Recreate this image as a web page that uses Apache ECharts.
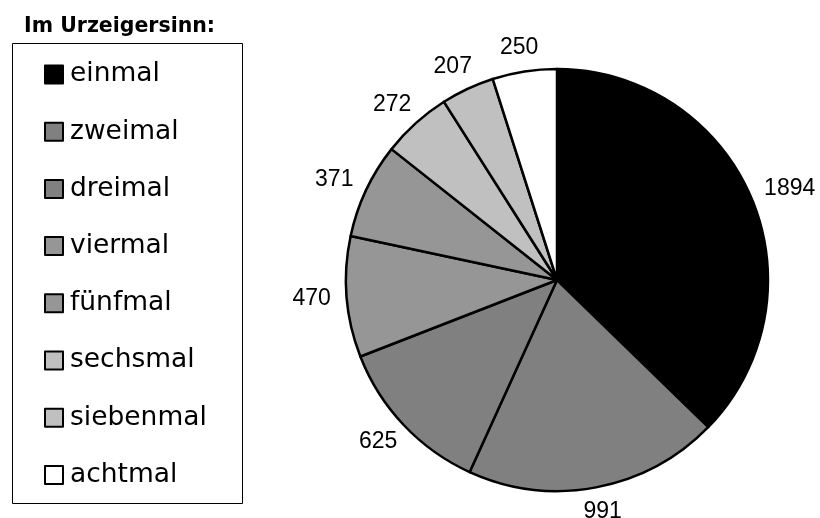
<!DOCTYPE html>
<html>
<head>
<meta charset="utf-8">
<script src="https://cdn.jsdelivr.net/npm/echarts@6/dist/echarts.min.js"></script>
<style>
  html, body { margin: 0; padding: 0; background: #fff; }
  #chart { width: 820px; height: 518px; }
</style>
</head>
<body>
<div id="chart"></div>
<script>
// Anzahl je Kategorie, im Uhrzeigersinn ab 12 Uhr
const categories = ['einmal', 'zweimal', 'dreimal', 'viermal', 'fünfmal', 'sechsmal', 'siebenmal', 'achtmal'];
const values = [1894, 991, 625, 470, 371, 272, 207, 250];
const sliceColors = ['#000000', '#808080', '#808080', '#969696', '#969696', '#c0c0c0', '#c0c0c0', '#ffffff'];
const legendTitle = 'Im Urzeigersinn:';

const PIE_CENTER = [557, 280];
const PIE_RADIUS = 211;
const LABEL_GAP = 16; // Abstand der Beschriftung vom Kreisrand

const total = values.reduce((a, b) => a + b, 0);

// Winkel der Segmentmitte (Bogenmaß, im Uhrzeigersinn ab 12 Uhr)
function midAngle(index) {
  let before = 0;
  for (let k = 0; k < index; k++) before += values[k];
  return (before + values[index] / 2) / total * Math.PI * 2;
}

const chart = echarts.init(document.getElementById('chart'), null, { renderer: 'canvas' });

chart.setOption({
  animation: false,
  backgroundColor: '#ffffff',
  color: sliceColors,
  title: {
    text: legendTitle,
    left: 19,
    top: 11,
    textStyle: {
      fontFamily: 'DejaVu Sans',
      fontWeight: 'bold',
      fontSize: 20.5,
      color: '#000'
    }
  },
  graphic: [{
    type: 'rect',
    shape: { x: 12.5, y: 43.5, width: 230, height: 460 },
    style: { fill: 'none', stroke: '#000', lineWidth: 1 },
    z: 1
  }],
  legend: {
    orient: 'vertical',
    left: 44,
    top: 61,
    padding: 0,
    itemWidth: 18,
    itemHeight: 18,
    itemGap: 30.2,
    icon: 'rect',
    selectedMode: false,
    itemStyle: { borderColor: '#000', borderWidth: 2 },
    textStyle: {
      fontFamily: 'DejaVu Sans',
      fontSize: 26.5,
      lineHeight: 26,
      color: '#000',
      padding: [0, 0, 0, 2]
    },
    data: categories
  },
  series: [{
    type: 'pie',
    center: PIE_CENTER,
    radius: PIE_RADIUS,
    startAngle: 90,
    clockwise: true,
    avoidLabelOverlap: false,
    itemStyle: { borderColor: '#000', borderWidth: 2.5 },
    emphasis: { disabled: true },
    label: {
      show: true,
      position: 'outside',
      formatter: '{c}',
      fontFamily: 'Liberation Sans',
      fontSize: 23,
      color: '#000',
      distanceToLabelLine: 0
    },
    labelLine: { show: false, length: 20, length2: 0 },
    // Beschriftung so setzen, dass ihre dem Kreis zugewandte Seite
    // einen festen Abstand zum Rand hat
    labelLayout: function (p) {
      const a = midAngle(p.dataIndex);
      const ux = Math.sin(a);
      const uy = -Math.cos(a);
      const w = p.labelRect.width;
      const h = p.labelRect.height * 0.75;
      const d = PIE_RADIUS + LABEL_GAP;
      return {
        x: PIE_CENTER[0] + d * ux + ux * w / 2,
        y: PIE_CENTER[1] + d * uy + uy * h / 2,
        align: 'center',
        verticalAlign: 'middle'
      };
    },
    data: categories.map((name, i) => ({ name: name, value: values[i] }))
  }]
});
</script>
</body>
</html>
